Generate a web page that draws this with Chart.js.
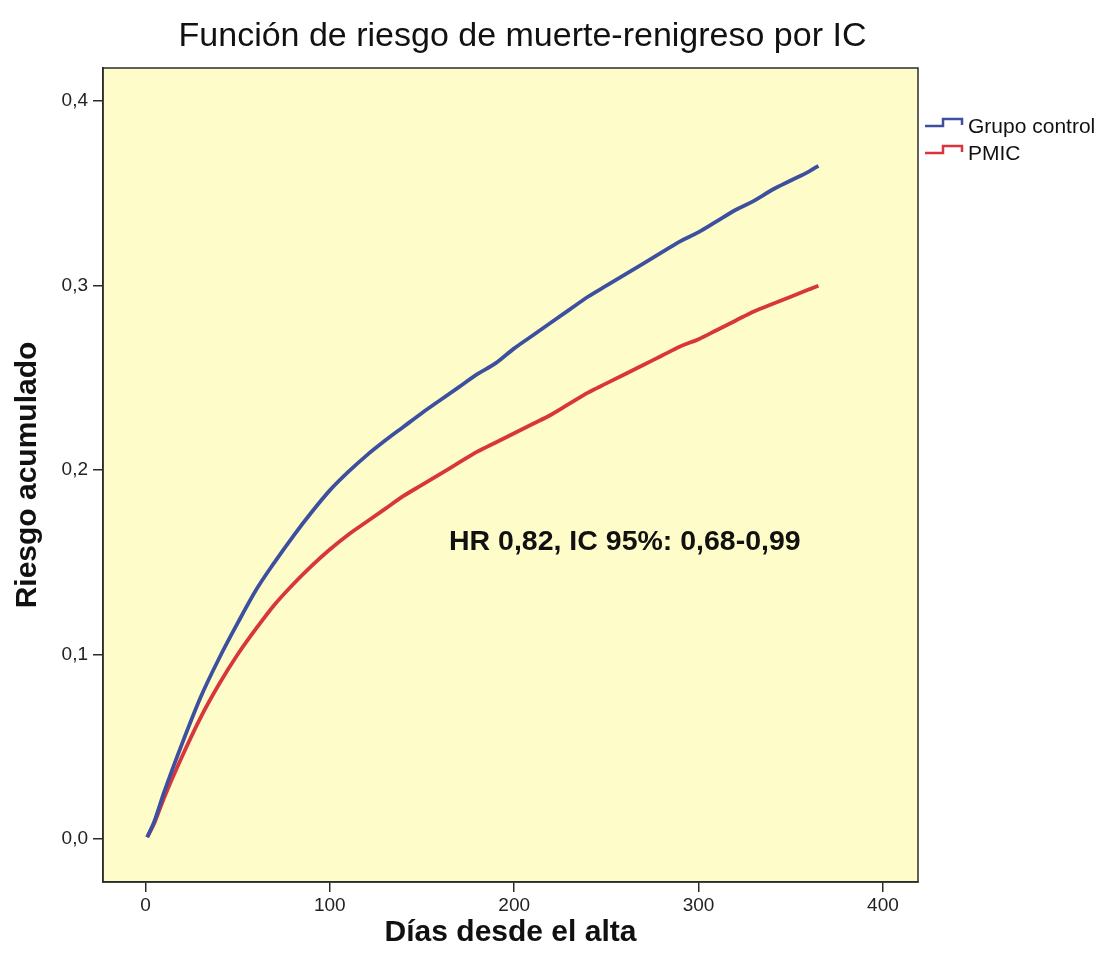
<!DOCTYPE html>
<html>
<head>
<meta charset="utf-8">
<script src="https://cdn.jsdelivr.net/npm/chart.js@4.4.1/dist/chart.umd.min.js"></script>
<style>
  html, body { margin: 0; padding: 0; background: #ffffff; }
  #wrap { width: 1102px; height: 966px; }
</style>
</head>
<body>
<div id="wrap"><canvas id="c" width="1102" height="966"></canvas></div>
<script>
// ---- Data ----
const days = [1, 5, 10, 20, 30, 40, 50, 60, 70, 80, 90, 100, 110, 120, 130, 140, 150, 160, 170, 180, 190, 200, 210, 220, 230, 240, 250, 260, 270, 280, 290, 300, 310, 320, 330, 340, 350, 360, 365];
const grupoControl = [0.001, 0.010, 0.025, 0.052, 0.077, 0.098, 0.117, 0.135, 0.150, 0.164, 0.177, 0.189, 0.199, 0.208, 0.216, 0.2235, 0.231, 0.238, 0.245, 0.252, 0.258, 0.266, 0.273, 0.280, 0.287, 0.294, 0.300, 0.306, 0.312, 0.318, 0.324, 0.329, 0.335, 0.341, 0.346, 0.352, 0.357, 0.362, 0.365];
const pmic = [0.001, 0.009, 0.022, 0.045, 0.066, 0.084, 0.100, 0.114, 0.127, 0.138, 0.148, 0.157, 0.165, 0.172, 0.179, 0.186, 0.192, 0.198, 0.204, 0.210, 0.215, 0.220, 0.225, 0.230, 0.236, 0.242, 0.247, 0.252, 0.257, 0.262, 0.267, 0.271, 0.276, 0.281, 0.286, 0.290, 0.294, 0.298, 0.300];
const seriesNames = ['Grupo control', 'PMIC'];
const xTickValues = [0, 100, 200, 300, 400];
const yTickValues = [0.0, 0.1, 0.2, 0.3, 0.4];
const chartTitle = 'Función de riesgo de muerte-renigreso por IC';
const xTitle = 'Días desde el alta';
const yTitle = 'Riesgo acumulado';
const annotationText = 'HR 0,82, IC 95%: 0,68-0,99';
const annotationDay = 260;
const annotationRisk = 0.161;

// ---- Styles ----
const BLUE = '#3d4f9f';
const RED = '#d8353c';
const PLOT_BG = '#fefdc9';
const AXIS = '#2b2b2b';
const FONT = "'Liberation Sans', Arial, sans-serif";

const toPts = (xs, ys) => xs.map((x, i) => ({ x: x, y: ys[i] }));

const decor = {
  id: 'decor',
  beforeDraw(chart) {
    const { ctx, chartArea: a } = chart;
    ctx.save();
    ctx.fillStyle = PLOT_BG;
    ctx.fillRect(a.left, a.top, a.right - a.left, a.bottom - a.top);
    ctx.restore();
  },
  afterDatasetsDraw(chart) {
    const { ctx, chartArea: a, scales } = chart;
    ctx.save();
    ctx.fillStyle = '#111';
    ctx.font = 'bold 28.5px ' + FONT;
    ctx.textAlign = 'center';
    ctx.textBaseline = 'middle';
    ctx.fillText(annotationText, scales.x.getPixelForValue(annotationDay), scales.y.getPixelForValue(annotationRisk));
    ctx.strokeStyle = AXIS;
    ctx.lineWidth = 1.5;
    ctx.strokeRect(a.left, a.top, a.right - a.left, a.bottom - a.top);
    ctx.restore();
  },
  afterDraw(chart) {
    const { ctx, chartArea: a } = chart;
    ctx.save();
    ctx.fillStyle = '#111';
    ctx.font = '34px ' + FONT;
    ctx.textAlign = 'center';
    ctx.textBaseline = 'middle';
    ctx.fillText(chartTitle, (a.left + a.right) / 2 + 12, 37);
    const colors = [BLUE, RED];
    const rowY = [126, 153];
    ctx.font = '21px ' + FONT;
    ctx.textAlign = 'left';
    ctx.textBaseline = 'middle';
    seriesNames.forEach((name, i) => {
      const y = rowY[i];
      const x0 = a.right + 7;
      ctx.strokeStyle = colors[i];
      ctx.lineWidth = 2.5;
      ctx.beginPath();
      ctx.moveTo(x0, y);
      ctx.lineTo(x0 + 18, y);
      ctx.lineTo(x0 + 18, y - 7);
      ctx.lineTo(x0 + 37, y - 7);
      ctx.lineTo(x0 + 37, y - 1);
      ctx.stroke();
      ctx.fillStyle = '#111';
      ctx.fillText(name, x0 + 43, y + 1);
    });
    ctx.restore();
  }
};

new Chart(document.getElementById('c'), {
  type: 'scatter',
  data: {
    datasets: [
      { label: seriesNames[0], data: toPts(days, grupoControl), showLine: true, borderColor: BLUE, backgroundColor: BLUE, borderWidth: 3.8, pointRadius: 0, cubicInterpolationMode: 'monotone' },
      { label: seriesNames[1], data: toPts(days, pmic), showLine: true, borderColor: RED, backgroundColor: RED, borderWidth: 3.8, pointRadius: 0, cubicInterpolationMode: 'monotone' }
    ]
  },
  options: {
    responsive: false,
    animation: false,
    events: [],
    layout: { padding: { top: 68, right: 184, left: 0, bottom: 0 } },
    plugins: { legend: { display: false }, title: { display: false }, tooltip: { enabled: false } },
    scales: {
      x: {
        type: 'linear',
        min: -23,
        max: 419,
        afterFit: s => { s.height = 84; },
        afterBuildTicks: s => { s.ticks = xTickValues.map(v => ({ value: v })); },
        ticks: { color: '#222', font: { family: FONT, size: 19 }, padding: 2, maxRotation: 0, callback: v => String(v) },
        grid: { display: true, drawOnChartArea: false, drawTicks: true, tickLength: 10, tickColor: AXIS, lineWidth: 1.5 },
        border: { display: true, color: AXIS, width: 1.5 },
        title: { display: true, text: xTitle, color: '#111', font: { family: FONT, size: 30, weight: 'bold' }, padding: { top: 0, bottom: 15 } }
      },
      y: {
        type: 'linear',
        min: -0.0233,
        max: 0.418,
        afterFit: s => { s.width = 103; },
        afterBuildTicks: s => { s.ticks = yTickValues.map(v => ({ value: v })); },
        ticks: { color: '#222', font: { family: FONT, size: 19 }, padding: 5, callback: v => Number(v).toFixed(1).replace('.', ',') },
        grid: { display: true, drawOnChartArea: false, drawTicks: true, tickLength: 10, tickColor: AXIS, lineWidth: 1.5 },
        border: { display: true, color: AXIS, width: 1.5 },
        title: { display: true, text: yTitle, color: '#111', font: { family: FONT, size: 30, weight: 'bold' }, padding: { top: 10, bottom: 0 } }
      }
    }
  },
  plugins: [decor]
});
</script>
</body>
</html>
